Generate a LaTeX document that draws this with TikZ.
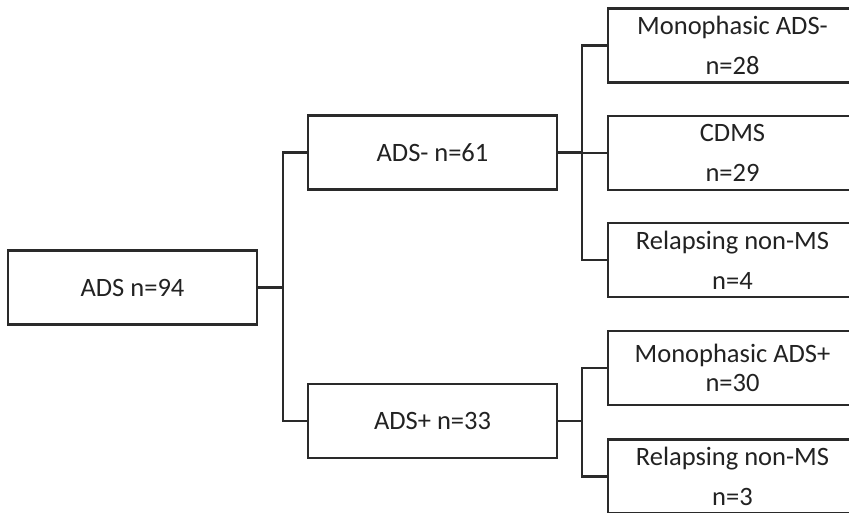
\documentclass[tikz,border=0pt]{standalone}
\usepackage{fontspec}
\setmainfont{Carlito}
\definecolor{ink}{HTML}{2A2A2A}
\definecolor{txt}{HTML}{222222}
\begin{document}
\begin{tikzpicture}[x=1pt,y=-1pt,
  box/.style={draw=ink, line width=2.8pt, fill=white, minimum width=249pt,
    minimum height=74pt, inner sep=0pt, align=center, text=txt,
    font=\fontsize{26.5}{40}\selectfont},
  tight/.style={font=\fontsize{26.5}{29}\selectfont},
  link/.style={draw=ink, line width=2.8pt, line join=miter}]
\useasboundingbox (0,0) rectangle (849,512);
\clip (0,0) rectangle (849,512);

% root and first split
\node[box] (root) at (132.5,287.5) {ADS n=94};
\node[box] (neg)  at (432.5,152.5) {ADS- n=61};
\node[box] (pos)  at (432.5,421)   {ADS+ n=33};

% outcome boxes
\node[box] (mono-neg) at (732.5,45.5) {Monophasic ADS-\\n=28};
\node[box] (cdms)     at (732.5,153)  {CDMS\\n=29};
\node[box] (rel-neg)  at (732.5,260)  {Relapsing non-MS\\n=4};
\node[box,tight] (mono-pos) at (732.5,368) {Monophasic ADS+\\n=30};
\node[box] (rel-pos)  at (732.5,476.5) {Relapsing non-MS\\n=3};

% bus points of the bracket connectors
\coordinate (bus-root) at (283,287.5);
\coordinate (bus-neg)  at (582,152.5);
\coordinate (bus-pos)  at (582,421);

\draw[link] (root.east) -- (bus-root);
\draw[link] (bus-root) |- (neg.west);
\draw[link] (bus-root) |- (pos.west);

\draw[link] (neg.east) -- (bus-neg);
\draw[link] (bus-neg) |- (mono-neg.west);
\draw[link] (bus-neg) |- (cdms.west);
\draw[link] (bus-neg) |- (rel-neg.west);

\draw[link] (pos.east) -- (bus-pos);
\draw[link] (bus-pos) |- (mono-pos.west);
\draw[link] (bus-pos) |- (rel-pos.west);
\end{tikzpicture}
\end{document}
